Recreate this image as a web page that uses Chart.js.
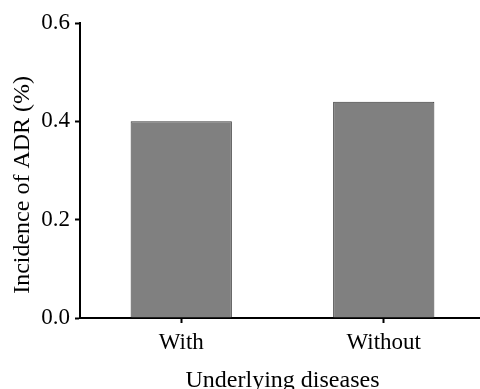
<!DOCTYPE html>
<html>
<head>
<meta charset="utf-8">
<script src="https://cdn.jsdelivr.net/npm/chart.js@4"></script>
<style>
html,body{margin:0;padding:0;overflow:hidden;background:#fff;}
#wrap{width:480px;height:389px;overflow:hidden;position:relative;}
canvas{position:absolute;left:0;top:0;}
</style>
</head>
<body>
<div id="wrap"><canvas id="c" width="485" height="395"></canvas></div>
<script>
const categories = ["With", "Without"];
const incidence = [0.40, 0.44];
const yTicks = [0.0, 0.2, 0.4, 0.6];
const xTitle = "Underlying diseases";
const yTitle = "Incidence of ADR (%)";

const serif = "'Liberation Serif', 'Times New Roman', serif";

new Chart(document.getElementById('c'), {
  type: 'bar',
  data: {
    labels: categories,
    datasets: [{
      data: incidence,
      backgroundColor: '#808080',
      borderColor: '#3c3c3c',
      borderWidth: 1,
      barPercentage: 0.5,
      categoryPercentage: 1.0
    }]
  },
  options: {
    responsive: false,
    animation: false,
    devicePixelRatio: 1,
    layout: { padding: { top: 23, right: 0, left: 0, bottom: 0 } },
    plugins: { legend: { display: false }, tooltip: { enabled: false } },
    scales: {
      x: {
        grid: { display: true, offset: false, drawOnChartArea: false, tickLength: 5, color: '#000', tickWidth: 2 },
        border: { display: true, color: '#000', width: 2 },
        ticks: { color: '#000', font: { family: serif, size: 23 }, padding: 6 },
        title: { display: true, text: xTitle, color: '#000', font: { family: serif, size: 24 }, padding: { top: 0, bottom: 0 } },
        afterFit: s => { s.height = 395 - 318; }
      },
      y: {
        min: 0, max: 0.6,
        afterBuildTicks: s => { s.ticks = yTicks.map(v => ({ value: v })); },
        grid: { display: true, drawOnChartArea: false, tickLength: 5, color: '#000', tickWidth: 2 },
        border: { display: true, color: '#000', width: 2 },
        ticks: { color: '#000', font: { family: serif, size: 23 }, padding: 5, callback: v => Number(v).toFixed(1) },
        title: { display: true, text: yTitle + "    \u2009", color: '#000', font: { family: serif, size: 24 }, padding: { top: 8, bottom: 0 } },
        afterFit: s => { s.width = 80; }
      }
    }
  }
});
</script>
</body>
</html>
